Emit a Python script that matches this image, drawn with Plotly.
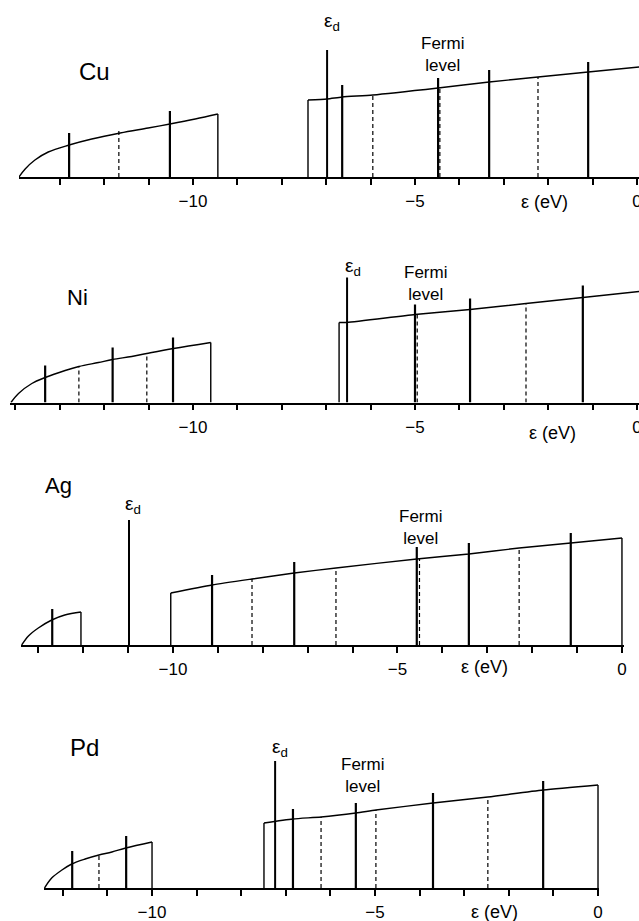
import plotly.graph_objects as go

# ---------------- data ----------------
PANELS = ["Cu", "Ni", "Ag", "Pd"]

# Cu
CU_LOW_E = [-13.92, -13.78, -13.56, -13.26, -12.79, -12.28, -11.64, -11.01, -10.52, -9.95, -9.44]
CU_LOW_D = [0.00, 0.08, 0.17, 0.25, 0.32, 0.38, 0.44, 0.49, 0.53, 0.58, 0.63]
CU_UP_E = [-7.41, -6.98, -6.64, -5.95, -4.48, -3.33, -2.23, -1.10, 0.05]
CU_UP_D = [0.77, 0.78, 0.80, 0.82, 0.89, 0.95, 1.00, 1.05, 1.10]
CU_SOLID_E = [-12.79, -10.52, -6.64, -4.48, -3.33, -1.10]
CU_SOLID_TOP = [0.44, 0.66, 0.92, 0.99, 1.07, 1.15]
CU_DASH_E = [-11.67, -5.95, -4.44, -2.23]
CU_DASH_TOP = [0.46, 0.82, 0.89, 1.00]
CU_ED_E, CU_ED_TOP = -6.98, 1.27

# Ni
NI_LOW_E = [-14.10, -13.93, -13.63, -13.33, -12.88, -12.57, -12.13, -11.81, -11.38, -11.04, -10.44, -9.60]
NI_LOW_D = [0.00, 0.09, 0.19, 0.25, 0.32, 0.36, 0.40, 0.43, 0.46, 0.49, 0.54, 0.60]
NI_UP_E = [-6.71, -6.53, -5.00, -3.76, -2.50, -1.22, 0.05]
NI_UP_D = [0.80, 0.80, 0.88, 0.93, 0.99, 1.05, 1.11]
NI_SOLID_E = [-13.33, -11.81, -10.45, -5.00, -3.76, -1.22]
NI_SOLID_TOP = [0.37, 0.55, 0.65, 0.98, 1.04, 1.17]
NI_DASH_E = [-12.57, -11.04, -4.95, -2.50]
NI_DASH_TOP = [0.36, 0.49, 0.88, 0.99]
NI_ED_E, NI_ED_TOP = -6.53, 1.25

# Ag
AG_LOW_E = [-13.37, -13.22, -13.00, -12.70, -12.41, -12.05]
AG_LOW_D = [0.00, 0.09, 0.17, 0.25, 0.30, 0.33]
AG_UP_E = [-10.05, -9.13, -8.24, -7.30, -6.37, -4.57, -3.41, -2.29, -1.14, 0.00]
AG_UP_D = [0.52, 0.60, 0.66, 0.72, 0.77, 0.86, 0.91, 0.97, 1.02, 1.07]
AG_SOLID_E = [-12.69, -9.13, -7.30, -4.57, -3.41, -1.14]
AG_SOLID_TOP = [0.36, 0.70, 0.83, 0.98, 1.02, 1.12]
AG_DASH_E = [-8.24, -6.37, -4.51, -2.29]
AG_DASH_TOP = [0.66, 0.77, 0.86, 0.97]
AG_ED_E, AG_ED_TOP = -10.98, 1.25

# Pd
PD_LOW_E = [-12.41, -12.25, -12.02, -11.80, -11.50, -11.19, -10.90, -10.59, -10.00]
PD_LOW_D = [0.00, 0.10, 0.18, 0.24, 0.29, 0.33, 0.36, 0.40, 0.46]
PD_UP_E = [-7.49, -6.84, -6.21, -5.43, -4.98, -3.70, -2.47, -1.23, 0.00]
PD_UP_D = [0.65, 0.69, 0.71, 0.75, 0.78, 0.85, 0.91, 0.98, 1.03]
PD_SOLID_E = [-11.79, -10.58, -6.84, -5.43, -3.70, -1.23]
PD_SOLID_TOP = [0.37, 0.52, 0.79, 0.85, 0.95, 1.07]
PD_DASH_E = [-11.19, -6.21, -4.98, -2.47]
PD_DASH_TOP = [0.33, 0.71, 0.78, 0.91]
PD_ED_E, PD_ED_TOP = -7.24, 1.27

TICK_VALS = [-10, -5, 0]
TICK_TEXT = ["\u221210", "\u22125", "0"]
X_TITLE = "\u03b5 (eV)"
ED_LABEL = "\u03b5<sub>d</sub>"
FERMI_LABEL = "Fermi<br>level"

# ---------------- layout geometry ----------------
W, H = 639, 921
FONT = "Liberation Sans"

# per panel: x range, domain px (left, right), baseline px, close upper band at right,
# label anchors: (x, y, yshift px)
GEOM = {
    "Cu": dict(rng=[-13.92, 0.045], dom=[18.95, 639], base=177, close=False,
               name=(-12.21, 1.06, 0, 24), ed=(-6.88, 1.27, 28), fermi=(-4.39, 1.23, 0), xt=(-2.09, 0, -25)),
    "Ni": dict(rng=[-14.12, 0.045], dom=[10.07, 639], base=402.5, close=False,
               name=(-12.61, 1.05, 0, 22), ed=(-6.40, 1.25, 11), fermi=(-4.77, 1.19, 0), xt=(-1.91, 0, -30)),
    "Ag": dict(rng=[-13.39, 0.05], dom=[20.8, 624.2], base=645, close=True,
               name=(-12.54, 1.45, 15, 22), ed=(-10.88, 1.25, 15), fermi=(-4.48, 1.18, 0), xt=(-3.07, 0, -22)),
    "Pd": dict(rng=[-12.42, 0.02], dom=[44.1, 598.9], base=888, close=True,
               name=(-11.52, 1.41, 0, 24), ed=(-7.12, 1.27, 13), fermi=(-5.29, 1.13, 0), xt=(-2.31, 0, -24)),
}
DATA = {
    "Cu": (CU_LOW_E, CU_LOW_D, CU_UP_E, CU_UP_D, CU_SOLID_E, CU_SOLID_TOP, CU_DASH_E, CU_DASH_TOP, CU_ED_E, CU_ED_TOP),
    "Ni": (NI_LOW_E, NI_LOW_D, NI_UP_E, NI_UP_D, NI_SOLID_E, NI_SOLID_TOP, NI_DASH_E, NI_DASH_TOP, NI_ED_E, NI_ED_TOP),
    "Ag": (AG_LOW_E, AG_LOW_D, AG_UP_E, AG_UP_D, AG_SOLID_E, AG_SOLID_TOP, AG_DASH_E, AG_DASH_TOP, AG_ED_E, AG_ED_TOP),
    "Pd": (PD_LOW_E, PD_LOW_D, PD_UP_E, PD_UP_D, PD_SOLID_E, PD_SOLID_TOP, PD_DASH_E, PD_DASH_TOP, PD_ED_E, PD_ED_TOP),
}
Y_RANGE = [0, 1.5]
Y_PX = 150  # pixel height of each y domain

fig = go.Figure()
annotations = []
layout = dict(width=W, height=H, margin=dict(l=0, r=0, t=0, b=0),
              paper_bgcolor="white", plot_bgcolor="rgba(0,0,0,0)", showlegend=False,
              font=dict(family=FONT, color="black"))


def segs(xs, tops):
    X, Y = [], []
    for x, t in zip(xs, tops):
        X += [x, x, None]
        Y += [0, t, None]
    return X, Y


for i, p in enumerate(PANELS, start=1):
    g = GEOM[p]
    le, ld, ue, ud, se, st, de, dt, ede, edt = DATA[p]
    xa = "x" if i == 1 else f"x{i}"
    ya = "y" if i == 1 else f"y{i}"
    line = dict(color="black", width=1.4)
    common = dict(xaxis=xa, yaxis=ya, mode="lines", hoverinfo="skip", cliponaxis=False)

    # lower band (smooth curve) + closing vertical
    fig.add_trace(go.Scatter(x=le, y=ld, line=dict(color="black", width=1.4, shape="spline", smoothing=1.0), **common))
    fig.add_trace(go.Scatter(x=[le[-1], le[-1]], y=[ld[-1], 0], line=line, **common))
    # upper band outline
    fig.add_trace(go.Scatter(x=[ue[0], ue[0]], y=[0, ud[0]], line=line, **common))
    fig.add_trace(go.Scatter(x=ue, y=ud, line=dict(color="black", width=1.4, shape="spline", smoothing=0.6), **common))
    if g["close"]:
        fig.add_trace(go.Scatter(x=[ue[-1], ue[-1]], y=[ud[-1], 0], line=line, **common))
    # solid vertical lines
    sx, sy = segs(se, st)
    fig.add_trace(go.Scatter(x=sx, y=sy, line=dict(color="black", width=2.2), **common))
    # eps_d line
    fig.add_trace(go.Scatter(x=[ede, ede], y=[0, edt], line=dict(color="black", width=2.0), **common))
    # dashed lines
    dx, dy = segs(de, dt)
    fig.add_trace(go.Scatter(x=dx, y=dy, line=dict(color="black", width=1.2, dash="4px,3px"), **common))

    ybot = 1 - g["base"] / H
    layout["xaxis" if i == 1 else f"xaxis{i}"] = dict(
        range=g["rng"], domain=[g["dom"][0] / W, g["dom"][1] / W], anchor=ya,
        showline=True, linecolor="black", linewidth=1.5, showgrid=False, zeroline=False,
        tickmode="array", tickvals=TICK_VALS, ticktext=TICK_TEXT, ticks="outside", ticklen=6,
        tickwidth=1.5, tickcolor="black", tickfont=dict(size=17, family=FONT),
        minor=dict(tick0=0, dtick=1, ticks="outside", ticklen=6, tickwidth=1.5,
                   tickcolor="black", showgrid=False),
        ticklabelstandoff=2, ticklabeloverflow="allow", automargin=False, fixedrange=True)
    layout["yaxis" if i == 1 else f"yaxis{i}"] = dict(
        range=Y_RANGE, domain=[ybot, ybot + Y_PX / H], anchor=xa, visible=False,
        showgrid=False, zeroline=False, fixedrange=True)

    nx, ny, nsh, ns = g["name"]
    annotations.append(dict(x=nx, y=ny, yshift=nsh, xref=xa, yref=ya, text=p, showarrow=False,
                            font=dict(size=ns, family=FONT)))
    annotations.append(dict(x=g["ed"][0], y=g["ed"][1], yshift=g["ed"][2], xref=xa, yref=ya,
                            text=ED_LABEL, showarrow=False, font=dict(size=19, family=FONT)))
    annotations.append(dict(x=g["fermi"][0], y=g["fermi"][1], yshift=g["fermi"][2], xref=xa, yref=ya,
                            text=FERMI_LABEL, showarrow=False, font=dict(size=17, family=FONT)))
    annotations.append(dict(x=g["xt"][0], y=g["xt"][1], yshift=g["xt"][2], xref=xa, yref=ya,
                            text=X_TITLE, showarrow=False, font=dict(size=18, family=FONT)))

layout["annotations"] = annotations
fig.update_layout(**layout)
fig.write_html("out.html")
